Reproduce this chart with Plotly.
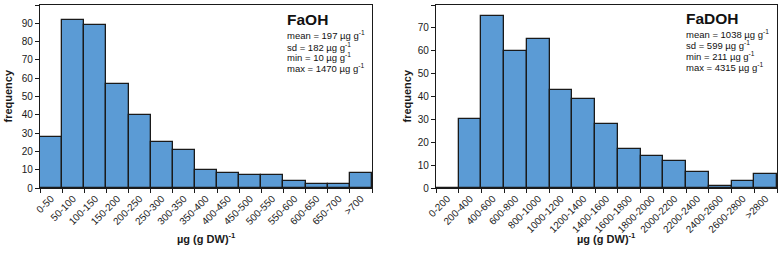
import plotly.graph_objects as go
from plotly.subplots import make_subplots

faoh_cats = ["0-50", "50-100", "100-150", "150-200", "200-250", "250-300", "300-350",
             "350-400", "400-450", "450-500", "500-550", "550-600", "600-650", "650-700", ">700"]
faoh_freq = [28, 92, 89, 57, 40, 25, 21, 10, 8, 7, 7, 4, 2, 2, 8]

fadoh_cats = ["0-200", "200-400", "400-600", "600-800", "800-1000", "1000-1200", "1200-1400",
              "1400-1600", "1600-1800", "1800-2000", "2000-2200", "2200-2400", "2400-2600",
              "2600-2800", ">2800"]
fadoh_freq = [0, 30, 75, 60, 65, 43, 39, 28, 17, 14, 12, 7, 1, 3, 6]

faoh_stats = ["mean = 197 µg g<sup>-1</sup>", "sd = 182 µg g<sup>-1</sup>",
              "min = 10 µg g<sup>-1</sup>", "max = 1470 µg g<sup>-1</sup>"]
fadoh_stats = ["mean = 1038 µg g<sup>-1</sup>", "sd = 599 µg g<sup>-1</sup>",
               "min = 211 µg g<sup>-1</sup>", "max = 4315 µg g<sup>-1</sup>"]

W, H = 780, 254
FONT = "Liberation Sans, Arial, sans-serif"
BAR = "#5b9bd5"
EDGE = "#1a1a1a"

fig = make_subplots(rows=1, cols=2)
fig.add_trace(go.Bar(x=faoh_cats, y=faoh_freq, marker=dict(color=BAR, line=dict(color=EDGE, width=1.3)),
                     showlegend=False), row=1, col=1)
fig.add_trace(go.Bar(x=fadoh_cats, y=fadoh_freq, marker=dict(color=BAR, line=dict(color=EDGE, width=1.3)),
                     showlegend=False), row=1, col=2)

ytop = 1 - 5 / H
ybot = 1 - 188 / H
x1 = [40 / W, 372 / W]
x2 = [436 / W, 777 / W]

axis_common = dict(showline=True, linecolor="#1a1a1a", linewidth=1.2, mirror=True, automargin=False,
                   ticks="outside", ticklen=4, tickcolor="#1a1a1a", showgrid=False, zeroline=False,
                   tickfont=dict(family=FONT, size=10, color="#1a1a1a"))

fig.update_xaxes(domain=x1, tickangle=-45, tickson="boundaries", row=1, col=1, **axis_common)
fig.update_xaxes(domain=x2, tickangle=-45, tickson="boundaries", row=1, col=2, **axis_common)
fig.update_yaxes(domain=[ybot, ytop], range=[0, 100], dtick=10, row=1, col=1, **axis_common)
fig.update_yaxes(domain=[ybot, ytop], range=[0, 80], dtick=10, row=1, col=2, **axis_common)

ann = []
# axis titles
for cx, yx in [((x1[0] + x1[1]) / 2, 7 / W), ((x2[0] + x2[1]) / 2, 406 / W)]:
    ann.append(dict(x=cx, y=1 - 238 / H, xref="paper", yref="paper", showarrow=False,
                    text="<b>µg (g DW)<sup>-1</sup></b>", font=dict(family=FONT, size=11, color="#1a1a1a"),
                    xanchor="center", yanchor="middle"))
    ann.append(dict(x=yx, y=(ytop + ybot) / 2, xref="paper", yref="paper", showarrow=False,
                    text="<b>frequency</b>", textangle=-90, font=dict(family=FONT, size=11, color="#1a1a1a"),
                    xanchor="center", yanchor="middle"))

for title, stats, lx, ty, sys in [("FaOH", faoh_stats, 285, 19.5, [35.5, 46.5, 57, 67.5]),
                                  ("FaDOH", fadoh_stats, 684, 18.5, [34.5, 45.3, 56, 66.7])]:
    ann.append(dict(x=lx / W, y=1 - ty / H, xref="paper", yref="paper", showarrow=False,
                    text="<b>" + title + "</b>", font=dict(family=FONT, size=15.5, color="#111"),
                    xanchor="left", yanchor="middle"))
    for s, yy in zip(stats, sys):
        ann.append(dict(x=lx / W, y=1 - yy / H, xref="paper", yref="paper", showarrow=False,
                        text=s, font=dict(family=FONT, size=9.5, color="#111"),
                        xanchor="left", yanchor="middle"))

fig.update_layout(width=W, height=H, margin=dict(l=0, r=0, t=0, b=0),
                  paper_bgcolor="white", plot_bgcolor="white", bargap=0,
                  font=dict(family=FONT), annotations=ann)

fig.write_html("out.html", config={"displayModeBar": False},
               post_script="document.body.style.margin='0';document.body.style.overflow='hidden';")
